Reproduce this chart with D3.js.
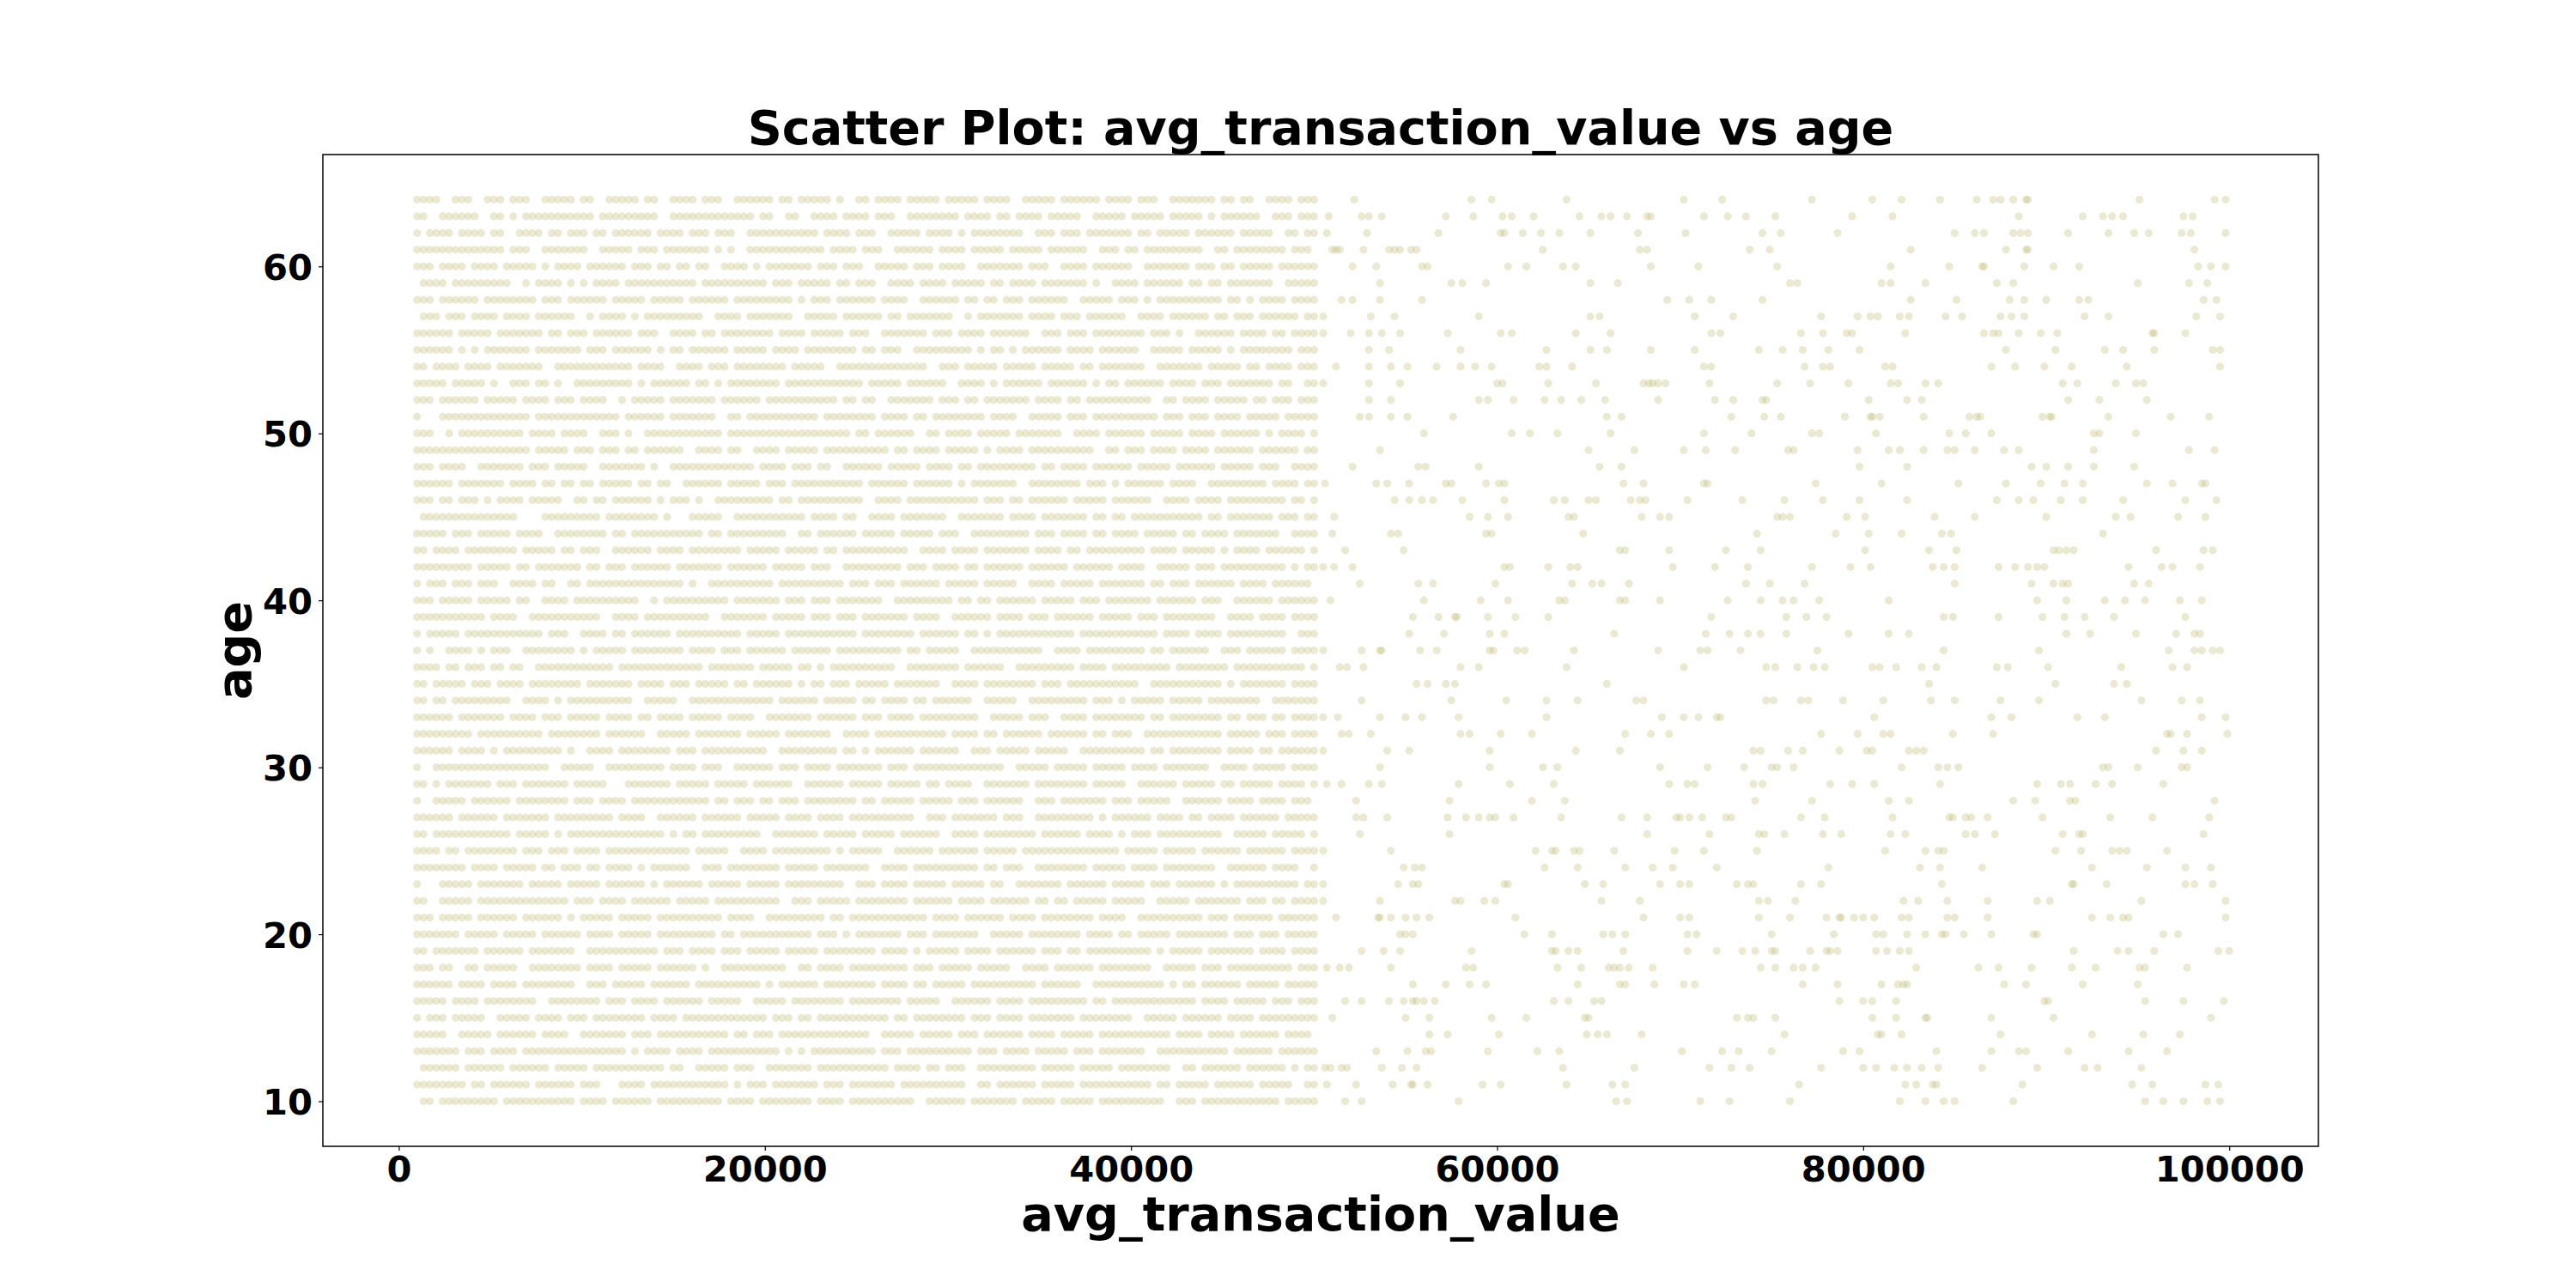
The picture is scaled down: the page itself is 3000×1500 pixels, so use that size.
<!DOCTYPE html>
<html>
<head>
<meta charset="utf-8">
<script src="https://d3js.org/d3.v7.min.js"></script>
<style>
  body { margin: 0; background: #fff; }
  text { font-family: "DejaVu Sans", sans-serif; font-weight: bold; }
</style>
</head>
<body>
<div id="chart"></div>
<script>
// one row of points per age, top row first
var rowAges = [64,63,62,61,60,59,58,57,56,55,54,53,52,51,50,49,48,47,46,45,44,43,42,41,40,39,38,37,
  36,35,34,33,32,31,30,29,28,27,26,25,24,23,22,21,20,19,18,17,16,15,14,13,12,11,10];

// dense part (1000 .. 50000): one character per 350 step, 'o' = a point (spaces only for counting)
var denseStart = 1000, denseStep = 350;
var denseRows = [
  "oooo..ooo. .ooo.ooo.. ooooo.oo.. ooooo.oo.. oooo.ooo.. oooooo.oo. ooooo.o..o o.oooo.ooo oo.ooooo.o ooo..ooooo .oooooo.oo oo.ooo..oo ooooo.oo.o o..oooo.oo o",
  "oo..oooooo ..oo.o.ooo oooooooo.o oooooooo.. oooooooooo ooo.oo..oo ..oooo.ooo o.ooo..ooo ooooo.oooo .oo.oooo.o oooo..oooo o.ooooo.oo ooo.o.oooo oo..ooo.oo o",
  "o.oooo.ooo o.oo..oooo .oo.ooo.oo .oooooo.oo oo.ooo.ooo ..oooooooo ooo.oooo.o oo..ooooo. oooo.o.ooo ooooo..ooo .ooo.ooooo oo.oo.oooo o.oooooo.o oooo..oo.o o",
  "oooooooooo oooo.ooo.. ooooooo..o oooo.ooo.o oooooo.o.o ..oooooooo oooo.oooo. ooo..ooooo o.oooo.ooo oo.ooooo.o ooooo..ooo .oo.oooooo ooo..oo.oo oooooo.ooo .",
  "ooo.oooo.o ooo.ooooo. o.oooo.ooo ooo.ooo.oo .oo.oo..oo oo.o.ooooo oo.ooo.ooo ..ooooo.oo o.oooo..oo ooooo.ooo. .oooo.oooo oo..oooooo o.ooo.oo.o oooo.ooooo o",
  ".oooo.oooo ooooo..o.o ooo.o.o.oo oo.ooooooo oooo.ooooo ooooo.ooo. ooooo.oo.o oo..oooo.o ooo.ooooo. oo.oooo.oo ooooo.o..o ooo.oooooo .oo.oo.ooo oooo..oooo o",
  "ooo.oooooo .oooooooo. ooo.oooooo .ooooo.ooo oo.oooooo. ooooooooo. o.ooo.oooo oo.oooo..o ooooo.oo.o o.ooo.oooo oo..ooooo. ooo.o.oooo oooooo.oo. o.oooo.ooo o",
  ".ooo.ooo.o ooo.oooo.o ooooo..o.o ooo.o.oooo ooooo..ooo o.ooooooo. .ooooo.ooo ooo.oo.ooo oooo..o.oo ooooo.oooo .ooo.ooooo o..oooo.oo oooo.oo.oo o.oooooo.o o",
  "oooooo.ooo oo.ooooooo .oo.ooo.oo oooo.ooo.. oooo.oo.oo oooooo.ooo o.ooooo.oo o..ooooooo .ooo.oooo. oooooo..oo o.ooo.oooo oooo.ooo.o ..oooooo.o ooo.oo.ooo o",
  "oooooo.o.o .ooooooo.o oooooo.ooo .oooooo.o. oo.oooooo. ooooo.oooo .oooooooo. oo.ooo..oo ooooooo.o. oo.o.ooooo o.oooo.ooo ooo..ooooo .ooooo.o.o ooooooo.oo o",
  "oo.oooo.oo oo.ooooooo ..oooooooo oooo.oooo. .oooo.ooo. oooooooo.o oooo..oooo oooooooooo ..ooo.oooo o.ooooo.oo ooo.oo.ooo oooo..oooo ooo.ooooo. oo.oooo.oo o",
  "ooooo.oooo o.o..ooo.o o.o..ooooo oooo.o.ooo ooo.oo.o.o ooooooo.oo oooooooooo .ooooo.ooo ooo..oooo. o.oooooo.o ooooo.o.oo .oooooo.oo oo.ooo.ooo oooo.oo..o o",
  "ooo.oooooo .ooooo.ooo o.ooo.oooo ..o.ooooo. ooooooo.oo oooo.ooooo oooooo.oo. oo..oooooo o.ooo.oo.o oooooo.ooo o.oo.ooooo ooooo..oo. oooo.ooooo .oo.ooo.oo o",
  "o...oooooo oooooooo.o oooooooooo oo.oooooo. ooooooo..o o.oooooooo ooo.oooooo oo.oooo.oo .oooooooo. oooo..oooo o.ooo.oooo oooooo.ooo .ooo.oooo. ooooo.oooo o",
  "ooo..o.ooo ooooooo.oo oo.oooo..o oo.o..oooo oooooooo.o oooooooooo oooooooo.o o.oooooo.. oo.oooo.oo ooo.oooooo o..oooo.oo oooo.ooooo .oooo.oooo oo.o.oooo. o",
  "oooooooooo oooooooo.o oooo.ooo.o oo.oo.oooo oo..oooo.o o..oooo.oo ooo.oooooo oooo.oo.oo oo.ooooo.o .oooo.oooo oooooo..oo .ooo.oooo. oooo.ooooo o.oooooo.o o",
  "ooo.oooo.. ooooooo.oo o.ooooo..o oooooo.o.. oooooooooo ooo.oooo.o oo.oo..ooo ooo.ooooo. oooo.oo.oo ooooooo.oo .oooo.oooo oo.ooooo.o ooooo.oooo o.ooo..ooo o",
  "oooooo.ooo oooo.oooo. oo.oo.oo.o oooo.oo.oo ..oooooo.o oooo.ooo.o oooooooooo .oooooo.oo oooo.o.ooo oooo..oooo oooo.ooo.o .oooooo.oo oo..oooooo ooo.oooo.o o",
  "ooo.oo.ooo .o.oooo.oo ooo..oo.oo .oooooo.o. ooo.o..ooo oooooo.oo. oooooooooo ..oooo.ooo oooooooo.o oo.oo.oooo oo.ooooo.o ooooo..ooo o.oooo.ooo oooooo.oo. o",
  ".ooooooooo oooooo.... ooooooooo. oooooooo.o ...ooooo.. oooooooooo o.oooo.oo. .oooo.oooo ooo..ooooo oo.oooo.oo ooooo.oo.o o.oooooooo ooo.oo.ooo oooo.ooo.o o",
  "ooooo.ooo. ooooo.oooo ..oooooooo .oo.oooooo ooooo.oo.o oooooooo.. oo.oooooo. ooooo.oooo o.ooo..ooo oooooo.ooo .oooo.oo.o ooo.ooooo. oo.oooo.oo ooooo..ooo o",
  "oo.oooo.oo oooooo.ooo oo.oo.ooo. .oooooo.oo oo.ooooooo o.ooooo.oo ooo.oo.ooo ooooooo..o ooo.oooo.o oooooo.ooo o.oo.ooooo oooo.oooo. ooooo.o.oo oo.oooooo. o",
  "ooooooooo. ooooo.oo.o oooooo.oo. ooo.oooooo .ooooooo.o ooooo.oooo o.ooo..ooo oooooo.ooo .oooo.oo.o ooooo.oooo oo.oooooo. oooo..oooo o.ooo.oooo oooooo.o.o o",
  "o.ooo.ooo. ooo..oooo. oo..oo.ooo oooooooooo oo.o..oooo oooooo.ooo ooooooo.oo o.ooo.oooo oo.ooooo.o oooo..oooo .ooooo.ooo oooo.oo.oo o.oooooo.o ooo.oooooo .",
  "ooo.ooooo. ooooo.oo.. oooo.ooooo ooooo..o.o ooooooooo. ooooooo.oo o.ooo.oooo ooo..ooooo oooo.oo.oo .oooooo.oo ooo.ooo.oo ooooo.oooo oo.ooo..oo oooo.ooooo o",
  "oooooooooo o.oooo..oo ooooooooo. .oooo.oooo oooooo..oo ooooo.oooo o.ooo.ooo. ooooooo.oo oo..oooooo .oooo.ooo. oooooo.ooo oo.ooo.ooo ooooo..ooo o.oooo.ooo o",
  "o.ooooo.oo oooooooooo .ooo..oooo .oo.oooooo .ooooooooo o.ooooo.oo ooooooooo. oooooooo.o ooooo.oo.o .ooooooooo ooo.oooooo oooooo.ooo o.oooo.ooo oooooo..oo o",
  "o.o..oooo. o.ooo..ooo ooooo.o.oo ooo.oooooo oo.oooo.oo o.oooooo.o ooooo.oooo oooooo.oo. ooooo..ooo oooooooo.. oooo.ooooo oooo.oo.oo oooo..ooo. oooooo.ooo o",
  "oooo.oo.oo o.oo.oo..o oooooooooo o.oooooooo ooooo.oooo ooo.ooooo. oo.o.ooooo ooooo..ooo ooooo.oooo oo..oooooo ooo.oooo.o oooooooo.o ooooooo.oo ooooooooo. o",
  "oo.ooooo.o oo.oooo.oo oooooo.ooo oooo.oooo. ooo.ooooo. oo.oooooo. o.oo.ooo.o oooo.ooooo oo..oooo.o ooooooo.oo o.oooooooo ooo..ooooo oooooo.o.o oooooo.ooo o",
  "oo.oo.oooo ooooo..ooo o.o.oooooo oooo..oooo o..ooooooo oooooo.ooo ooo.ooooo. oo.oooo.oo .oooooo..o oooo..oooo ooooo.ooo. o.ooooo.oo ooo.oooooo oo..oooooo o",
  "oooooo.ooo oooo.oooo. ooo.ooooo. oooo.oo.oo oo.ooooo.o ooo..ooooo oo.oooooo. ooo.oooo.o oooooooo.. ooooo.ooo. .oooo.oooo oooo.oo.oo oooooo.oo. ooo.oo.ooo o",
  "ooooooooo. oooooooooo .oooooooo. oooooo..oo ooo.oooooo o.ooooo.oo ooooo..ooo o.oooooooo ooo.oooo.o o.oooooo.o ooooo.oo.o oo..oooooo oooooo.ooo oo.ooo.ooo o",
  "oooooo.ooo o.o.oooooo ooo.o..ooo o.oooooooo .ooo.ooooo ooooo..ooo oooooo.oo. o.oooooo.o ooooo..ooo .ooooo.ooo oo..oooooo oooo.oo.oo oooooo.ooo o.oo.ooooo o",
  "o..ooooooo oooooooooo o..ooooo.. ooooooooo. oooo.ooo.. oooooo.ooo .oooo.oooo ooo.ooo.oo oooooooooo oo..ooooo. ooooo.oooo o.oooo.ooo oooo..oooo .ooooo.ooo o",
  "oo.o.ooooo oo.ooo.ooo oooo.ooooo ...ooooooo .ooooo.ooo oo.oooooo. .oooooo.oo ooo.ooooo. oo.oooo..o oooooo.ooo ooooo.oooo o..oooooo. ooooo.oo.o oooo.oooo. o",
  "o..ooooo.o ooooo.oooo oooo.ooo.o ooo.oooooo oooooo.oo. ooo.oo.ooo .oooooooo. oo.ooooo.o oooo.ooo.o ooooo..ooo .ooooooo.o oo.ooooo.. oooooo.ooo o.oooo.ooo .",
  "oooooo.ooo ooo.oooooo o.oooooooo o.oooo..oo oooo.ooooo o.ooooo.oo oo.oooo.oo oooooooo.. ooo.oooooo o.ooo..ooo oooooo.o.o ooooo.oooo .oo.oooo.o ooooo.oooo o",
  "oo.ooooooo ooooo.oooo o.o.oooooo ooooooooo. o.oo.ooooo oooo..oooo ooo.ooooo. ooooo.oooo oo..oooo.o ooooooo.oo oooo.oooo. o.ooo.oooo oooooo..oo ooo.ooooo. o",
  "oooo.oo.oo oooooo.ooo .ooo.oooo. oooooooooo ooo.ooooo. .oooo.oooo ooooo.o.oo ooo..ooooo o.oooooo.o oooo.ooooo oooooooooo .ooooo.ooo oo.oooooo. oooooo.ooo o",
  "oooooooo.o ooo.ooooo. oo.ooo.oo. oooo.o.ooo ooo..ooo.o ooooooo.oo ooo.oooooo o..oooo.oo oooooooo.o o.ooo..ooo ooooo.oooo o.oooo.ooo ooooo..ooo ooo.oooo.. o",
  "o...ooooo. ooooooo.oo ooo.ooooo. oooooo.o.o ooooo.oooo o.ooooo.oo ooooooo..o oo.oooo.oo ooo.ooooo. oo..oooooo o.oooooo.o oooo.ooo.o ooooo.o.oo oooooooo.o o",
  "oo..ooooo. oooooooooo oooo.ooo.o ooo.oooooo .ooooo.ooo ooooooo..o oo.ooooo.o ooooooo.oo oooo.oooo. oooooo.oo. oo.ooooo.o oooo..oooo o.ooooooo. ooo.oo.ooo o",
  "ooo.ooooo. oooooo.ooo ooo.o.oooo o.ooooo.oo oooooooo.o ooo..ooooo oooo.oo.oo oooooooooo .oooo.oooo oo.oooo.oo oooooo.ooo o..ooooooo ooo.ooo.oo oooo.ooooo o",
  "ooooooo.oo ooo.ooooo. oooooo.ooo o.ooooo.oo ooooooo.oo .ooooooooo oo.ooo.o.o oooooo.ooo .ooooooo.. ooooo.oooo oooo.oooo. oo.ooooo.o ooooooo.oo o.ooo.oooo o",
  "oo.ooooooo .oooooo.oo ooooo..ooo oooooooo.o oo.oooo.oo o.ooooo.oo ooo.oooooo oo.oooo.o. ooooo.oooo .oooooo.oo o.oo.ooooo ooooo.o.oo ooo.oooooo o.oooo.ooo o",
  "ooo.oo..oo .ooooo..oo oooooo.ooo o.ooooo.oo oooo.o..oo oooooooo.. oo.oooo.oo ooooooo.oo o.ooooo.oo ooo..oooo. oooooo.ooo ooooo..ooo oo.ooo.ooo ooooooo.oo o",
  "oooooo.ooo o.oooo.ooo ooooo..ooo .ooooo.ooo ooo.oooooo oooo.o.ooo ooo.oooooo oo.oooo.oo .ooooo.ooo ooooooo.oo oooo..oooo ooooooo.o. oo.oooooo. ooooo.oooo o",
  "ooooo.oooo .oooooooo. .oooooooo. ooo.oooo.o ooooo.oooo o..ooooo.o ooooooo.oo oooooo.ooo oo..oooooo .oooo.oooo ooooo.oo.o oooooooooo oo.oooo.oo ooo.ooo.oo o",
  "o.ooo.oooo o..ooooo.o ooo.ooo.oo oooooo.ooo o.oooooooo ooooo.ooo. oo.ooooooo oooo.oo.oo oooooo.ooo .oooo.oooo ooo.oooooo oo..ooooo. oooooo.ooo o.oooooooo o",
  "ooooo..ooo oo.oooooo. oooo..oooo ooo.ooo.oo ooooooooo. oo.ooo.ooo oooooooooo o..ooooo.o oooo.ooo.o ooooo.oooo .ooooo.ooo oooooooo.o ooo.oooo.o ooooo.oooo .",
  "ooooooo.oo o.oooo.ooo oooooooooo ooo.o.oooo .oooo.oooo ooooooo.o. o.oooooooo oo.ooo.ooo ooooooo.oo o.oooo.ooo oo.ooo.ooo oooo..oooo ooooooo.oo oooo.ooooo o",
  ".oooooo.oo oooo.ooooo o.ooooo.oo ooooooooo. oo..ooooo. ooo..ooooo oo.ooooooo oooo.oooo. oo.ooo..oo ooooooo.oo ooo.ooooo. oooooooo.. oo.oooooo. oooooo.o.o o",
  "oooooooo.o o.oooooo.o ooooo.ooo. ..oooo.ooo ooooooooo. o.ooo.oooo ooo.ooo.oo ooooo.oooo oooooo..oo .oooooo.oo ooo.oooooo ooooo.oo.o oooo.ooooo o.ooooo..o o",
  ".oo.oooooo ooo.oooooo ooooo.oooo .oooooo.oo oooooooo.o ooo.oooooo oo.oooo.oo oooooooo.. oooooo.ooo oooo.ooooo .ooooo.ooo ooooooo..o oo.ooooooo ooooo.oooo o"
];

// sparse part above 50000, values in thousands
var sparseRows = [
  [52.2,58.6,59.7,63.8,70.2,72.3,77.2,80.5,82.1,84.2,86.2,87.1,87.5,88.2,88.9,89.0,95.1,99.2,99.8],
  [50.8,52.6,53.0,53.7,57.2,58.7,60.3,60.8,62.0,64.5,65.7,66.2,67.1,68.2,68.4,71.3,72.6,73.6,75.2,79.4,81.6,88.5,92.0,93.1,93.6,94.2,97.5,98.0],
  [50.7,52.9,56.8,60.2,60.4,61.4,62.4,63.4,65.1,67.7,70.3,74.5,75.5,78.6,85.0,86.1,86.6,88.2,88.6,89.0,91.2,93.4,94.8,95.6,97.4,97.9,99.8],
  [51.0,51.2,51.4,52.7,54.1,54.4,54.7,55.3,55.6,62.5,67.8,68.2,73.8,74.9,82.6,87.8,88.9,89.0,98.1],
  [52.1,53.4,55.9,56.2,60.6,61.6,63.6,64.3,68.4,71.0,75.3,81.5,84.7,86.5,86.6,88.8,90.4,91.8,98.3,99.0,99.8],
  [53.6,57.5,58.1,59.4,65.1,66.6,76.0,76.4,81.0,81.5,83.4,87.3,88.2,95.0,97.8,98.8],
  [51.5,52.1,53.6,55.9,69.3,70.5,71.7,74.5,82.6,85.1,88.0,88.8,90.0,91.8,92.3,98.6,99.3],
  [50.5,53.1,54.4,59.0,65.1,65.6,70.8,72.9,77.7,79.7,80.4,80.8,82.0,82.5,84.5,85.4,87.5,88.1,88.8,92.1,93.4,98.2,99.5],
  [50.5,52.0,53.0,53.7,54.7,57.3,60.2,60.8,64.3,66.2,71.7,72.2,76.6,77.8,79.1,79.4,82.3,86.6,87.1,87.4,88.5,89.7,90.6,95.8,95.9,97.6],
  [53.0,54.1,58.0,62.7,65.1,66.0,68.4,70.8,74.3,75.6,76.7,78.1,79.8,87.8,90.5,93.2,94.2,95.9,99.1,99.5],
  [51.2,53.0,54.2,55.1,56.7,58.0,58.8,59.7,62.3,62.7,64.1,71.3,71.7,76.8,77.8,78.2,81.2,81.6,87.0,88.3,89.9,91.4,94.4,99.5],
  [50.5,53.0,54.7,60.0,60.3,62.8,65.4,68.0,68.3,68.5,68.8,69.2,71.6,75.3,77.1,79.2,81.5,81.9,83.4,84.1,90.9,91.7,93.8,94.9,95.3],
  [53.0,54.2,59.0,59.5,60.9,62.6,63.5,64.6,65.9,68.8,71.9,72.9,74.5,74.7,80.3,82.4,83.2,91.2,92.9,95.5],
  [52.5,53.0,54.2,55.1,57.6,66.0,66.8,72.8,74.6,75.5,79.0,80.4,80.5,80.9,83.3,85.8,86.2,86.4,89.8,90.2,90.3,93.4,96.8,98.9],
  [56.0,60.8,61.8,63.3,66.2,71.3,73.9,77.2,77.6,80.7,84.7,85.6,87.0,92.6,92.9,94.9],
  [53.6,65.0,67.5,70.2,71.4,73.0,75.9,76.2,79.7,81.4,82.0,83.3,84.6,85.0,86.1,87.7,88.5,92.6,97.8,99.2],
  [52.1,55.7,56.1,59.0,65.6,66.8,79.8,82.4,89.2,90.0,91.2,92.6,94.8],
  [50.6,53.4,54.0,55.2,57.2,57.5,59.4,60.1,60.4,66.9,68.0,71.3,71.5,77.4,81.0,85.2,87.8,89.7,91.0,92.0,95.5,96.9,98.5,98.7],
  [54.4,55.2,55.9,56.5,58.1,60.4,63.1,63.7,65.0,65.4,67.3,67.8,68.1,70.4,73.4,75.7,77.8,79.8,82.4,87.3,88.5,89.3,90.8,92.0,94.2,97.6,99.3],
  [51.1,58.5,59.5,60.6,63.9,64.2,67.9,68.9,69.4,75.3,75.6,76.0,79.1,80.1,83.9,86.1,90.0,93.8,94.6,97.2,98.7],
  [51.0,54.2,54.6,59.4,59.7,64.7,74.2,78.5,80.3,82.1,84.3,84.8,93.1],
  [51.7,54.9,66.7,67.0,69.4,72.5,74.4,80.1,83.6,85.1,90.4,90.7,91.1,91.5,96.0,98.6,99.1],
  [50.5,51.1,52.1,60.4,60.7,62.8,64.0,64.4,69.6,71.9,73.7,77.2,79.3,80.4,83.8,84.4,85.0,87.4,88.3,89.0,89.5,89.9,94.5,96.3,96.9,98.4],
  [52.5,55.7,56.5,59.9,64.1,65.2,65.7,67.2,73.6,74.9,76.8,85.0,89.2,90.4,90.9,91.2,94.8,95.6],
  [50.9,56.0,59.1,60.6,63.4,63.7,66.7,67.0,68.9,72.6,74.4,75.6,76.2,77.6,81.4,89.5,91.1,93.2,94.3,95.4,97.3,98.5],
  [55.4,56.8,57.7,57.8,59.5,61.0,62.8,71.7,75.8,76.9,78.0,84.4,84.9,87.4,89.8,91.0,92.1,93.7,97.6],
  [55.2,57.1,59.6,60.4,66.4,71.4,72.7,73.7,74.4,75.8,79.2,81.4,82.5,91.1,92.4,94.9,97.1,98.1,98.4],
  [50.5,52.6,53.6,53.7,55.8,56.7,59.6,59.8,61.1,61.5,64.2,68.8,71.1,71.5,73.3,77.5,84.4,89.6,96.7,98.1,98.5,99.1,99.5],
  [51.4,51.8,52.7,58.0,59.0,63.8,70.2,74.7,75.2,76.4,77.3,77.9,80.5,80.9,81.8,83.2,84.0,87.3,87.9,90.1,94.1,96.9,97.7],
  [55.6,56.2,57.2,57.7,66.0,83.6,90.5,93.7,94.4],
  [52.6,57.5,60.5,62.7,64.4,67.6,68.0,74.7,75.1,76.6,77.0,78.9,81.1,83.7,85.0,87.5,89.6,95.2,97.4,98.4],
  [50.5,51.3,53.6,55.0,55.9,57.9,62.7,69.0,70.2,71.0,72.0,72.2,80.6,87.0,88.1,91.7,93.2,98.5,99.8],
  [51.5,51.9,53.1,58.0,58.5,60.2,61.9,67.0,68.4,69.4,77.7,79.7,81.1,81.5,84.9,87.1,96.6,96.8,97.7,99.9],
  [50.5,54.0,55.2,59.6,64.3,66.7,74.0,74.4,75.9,76.7,78.7,80.2,80.5,82.5,82.9,83.3,96.0,97.5,98.5],
  [53.6,59.6,62.5,63.3,68.9,71.5,73.5,75.0,75.3,76.2,82.1,84.1,84.6,85.2,93.1,93.4,95.0,97.4,97.7],
  [50.7,51.5,53.0,53.7,57.9,60.7,63.1,69.4,70.4,70.8,74.0,74.5,78.2,79.4,80.6,84.2,89.5,90.8,91.3,92.7,93.6,96.4],
  [52.3,57.4,61.9,63.7,74.1,77.2,81.4,82.5,88.2,89.4,91.3,91.6,99.2],
  [52.3,52.7,54.0,57.3,58.3,59.0,59.6,59.9,60.9,63.5,66.8,68.2,69.8,70.0,70.5,71.2,72.5,72.8,76.6,77.9,81.6,84.7,84.9,85.6,85.9,86.8,89.8,93.5,95.8,98.9],
  [52.5,57.4,68.2,71.6,74.3,74.6,75.7,77.8,78.8,81.5,82.3,85.6,86.1,87.2,90.9,91.8,92.0,98.6],
  [50.5,54.2,62.1,63.0,63.2,64.2,64.5,66.4,69.7,71.3,74.2,81.2,83.4,84.1,84.4,90.5,91.9,93.6,94.0,94.4,96.6],
  [54.9,55.5,55.9,62.6,64.4,67.0,68.5,69.6,72.0,78.1,83.1,84.2,86.5,92.5,95.5,97.6,99.0],
  [50.5,54.6,55.4,55.7,60.4,60.6,64.8,65.8,68.9,70.0,70.5,73.1,73.7,74.0,76.6,77.7,84.3,91.4,91.5,93.3,97.6,98.1,99.1],
  [50.5,53.6,57.7,58.0,59.3,59.9,65.7,67.8,74.3,74.8,76.3,82.2,83.0,84.6,86.8,89.5,90.2,95.2,99.8],
  [51.2,53.5,53.6,54.2,55.0,55.6,56.3,61.0,68.0,70.0,70.5,74.3,76.0,78.0,78.7,78.8,79.5,80.0,80.6,82.1,82.5,84.6,85.0,86.8,92.5,93.5,94.2,94.5,99.8],
  [54.7,55.0,55.4,61.5,63.0,65.8,66.3,67.0,70.4,70.9,75.0,78.4,80.7,81.1,82.4,83.4,84.3,84.5,85.5,87.0,89.3,89.5,96.4,97.2],
  [52.6,53.8,54.7,58.6,63.0,63.2,63.9,64.4,66.9,70.4,72.0,73.4,74.1,75.0,75.2,77.1,78.0,78.2,78.6,80.7,81.3,82.0,82.5,91.5,93.9,94.5,95.9,99.4,100.0],
  [50.7,51.4,51.9,54.2,58.3,58.7,63.3,64.6,66.1,66.4,66.7,67.2,68.5,74.4,75.2,76.2,76.7,77.4,82.9,86.3,87.4,89.2,91.4,92.7,95.1,95.4,97.7],
  [55.4,57.2,58.5,59.4,64.4,66.7,67.0,68.6,70.2,70.8,76.7,78.6,81.0,81.9,82.2,82.4,87.7,88.9,92.0,95.0],
  [51.7,52.6,54.1,54.9,55.4,55.6,56.0,56.6,63.1,63.9,65.3,65.7,78.7,80.0,80.5,81.8,89.9,90.1,95.4,97.5,99.7],
  [51.0,55.0,56.3,59.7,61.6,64.8,65.0,73.1,73.7,74.0,75.2,80.5,81.8,83.4,83.5,87.0,90.4,99.0],
  [56.3,57.3,60.1,64.9,65.5,66.0,67.9,75.7,80.8,81.0,82.1,87.5,92.5,95.3,97.3],
  [53.4,55.1,56.1,56.4,59.5,62.2,63.4,70.1,72.3,73.2,75.0,78.9,79.8,84.0,87.0,88.5,88.9,91.2,94.5,96.6],
  [50.6,50.9,51.5,51.8,53.7,54.8,55.6,63.6,67.5,71.6,72.8,73.8,77.7,80.0,80.7,81.7,82.4,83.2,84.1,86.5,89.5,92.1,92.8,95.2],
  [50.7,52.3,54.3,55.3,55.4,56.2,59.2,60.2,63.8,66.3,67.0,76.5,82.3,82.9,83.8,84.0,88.7,94.7,95.8,98.7,99.4],
  [51.7,52.6,57.9,66.5,67.1,71.1,72.7,76.0,82.0,83.4,84.4,85.0,88.2,95.4,96.4,97.5,98.8,99.5]
];

var xTicks = [0, 20000, 40000, 60000, 80000, 100000];
var yTicks = [10, 20, 30, 40, 50, 60];

var width = 3000,
    height = 1500,
    plotLeft = 376, plotRight = 2700, plotTop = 180, plotBottom = 1335;

var svg = d3.select('#chart').append('svg')
  .attr('width', width)
  .attr('height', height)
  .style('background', '#fff');

var xScale = d3.scaleLinear().domain([-4150, 104870]).range([plotLeft, plotRight]);
var yScale = d3.scaleLinear().domain([7.3, 66.7]).range([plotBottom, plotTop]);

// build points from the rows
var points = [];
rowAges.forEach(function(age, r) {
  denseRows[r].replace(/ /g, '').split('').forEach(function(c, i) {
    if (c === 'o') points.push({ x: denseStart + i * denseStep, y: age });
  });
  sparseRows[r].forEach(function(v) {
    points.push({ x: v * 1000, y: age });
  });
});

svg.append('g').selectAll('circle')
  .data(points)
  .enter().append('circle')
  .attr('cx', function(d) { return xScale(d.x); })
  .attr('cy', function(d) { return yScale(d.y); })
  .attr('r', 4.6)
  .attr('fill', '#bdb76b')
  .attr('fill-opacity', 0.3);

// frame
svg.append('rect')
  .attr('x', plotLeft).attr('y', plotTop)
  .attr('width', plotRight - plotLeft).attr('height', plotBottom - plotTop)
  .attr('fill', 'none')
  .attr('stroke', '#000')
  .attr('stroke-width', 1.5);

var xAxis = d3.axisBottom(xScale).tickValues(xTicks).tickSize(5).tickPadding(6).tickFormat(d3.format('d'));
var yAxis = d3.axisLeft(yScale).tickValues(yTicks).tickSize(5).tickPadding(7).tickFormat(d3.format('d'));

var gx = svg.append('g').attr('transform', 'translate(0,' + plotBottom + ')').call(xAxis);
var gy = svg.append('g').attr('transform', 'translate(' + plotLeft + ',0)').call(yAxis);

[gx, gy].forEach(function(g) {
  g.select('.domain').remove();
  g.selectAll('line').attr('stroke', '#000').attr('stroke-width', 1.2);
  g.selectAll('text')
    .attr('fill', '#000')
    .style('font-family', '"DejaVu Sans", sans-serif')
    .style('font-weight', 'bold')
    .style('font-size', '41.7px');
});
gy.selectAll('text').attr('dy', '0.36em');

// title and axis labels
svg.append('text')
  .attr('x', (plotLeft + plotRight) / 2).attr('y', 168)
  .attr('text-anchor', 'middle')
  .style('font-size', '55.6px')
  .text('Scatter Plot: avg_transaction_value vs age');

svg.append('text')
  .attr('x', (plotLeft + plotRight) / 2).attr('y', 1433)
  .attr('text-anchor', 'middle')
  .style('font-size', '55.6px')
  .text('avg_transaction_value');

svg.append('text')
  .attr('transform', 'translate(292,' + (plotTop + plotBottom) / 2 + ') rotate(-90)')
  .attr('text-anchor', 'middle')
  .style('font-size', '55.6px')
  .text('age');
</script>
</body>
</html>
